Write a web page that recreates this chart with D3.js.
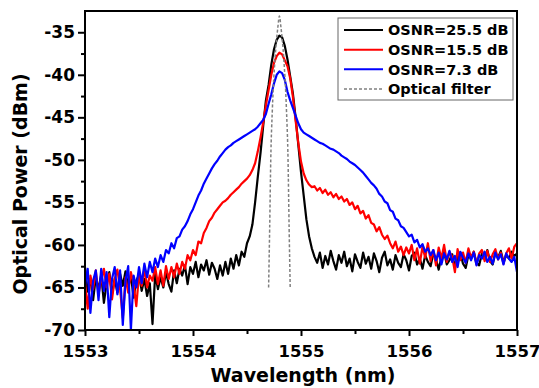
<!DOCTYPE html>
<html>
<head>
<meta charset="utf-8">
<script src="https://cdn.jsdelivr.net/npm/d3@7"></script>
<style>
  html, body { margin: 0; padding: 0; background: #fff; }
  svg { display: block; }
  text { font-family: "DejaVu Sans", Verdana, sans-serif; font-weight: bold; fill: #000; }
</style>
</head>
<body>
<svg id="chart" width="539" height="388"></svg>
<script>
// spectra sampled every 0.025 nm from 1553 nm (161 points each)
const lambdaStart = 1553
const lambdaStep = 0.025

const osnr25 = [
  -62.6, -65.5, -64.0, -66.5, -63.8, -65.2, -63.5, -66.8, -64.5, -63.2, -65.8, -64.0,
  -65.6, -63.4, -64.8, -63.1, -65.0, -63.6, -66.2, -64.2, -63.5, -65.4, -64.0, -66.0,
  -64.5, -69.3, -63.4, -65.2, -63.8, -65.0, -63.2, -64.6, -65.5, -63.0, -64.5, -62.8,
  -63.6, -62.4, -64.6, -62.6, -63.4, -62.0, -63.8, -62.3, -63.0, -61.8, -63.5, -62.1,
  -62.8, -64.0, -62.4, -63.6, -62.0, -63.4, -61.6, -62.8, -61.2, -62.4, -60.8, -61.4,
  -59.8, -59.0, -57.6, -55.0, -52.0, -49.2, -46.0, -43.0, -41.2, -38.8, -37.0, -35.9,
  -35.4, -35.6, -36.6, -38.2, -40.2, -42.2, -45.0, -48.2, -51.4, -54.2, -57.0, -59.0,
  -60.4, -61.4,
  -62.1, -60.9, -62.7, -61.3, -62.3, -60.7, -61.9, -62.9, -61.2, -62.1,
  -60.8, -62.5, -61.6, -63.1, -61.1, -62.0, -62.7, -60.9, -62.2, -61.4,
  -62.8, -61.0, -61.9, -63.2, -61.5, -60.8, -62.4, -61.7, -62.9, -61.2,
  -62.1, -62.6, -61.1, -61.8, -63.0, -61.3, -60.9, -62.3, -61.6, -62.8,
  -61.2, -62.0, -62.5, -61.0, -61.7, -62.9, -61.4, -60.8, -62.3, -61.8,
  -61.1, -62.6, -61.5, -60.9, -62.2, -62.7, -61.2, -61.6, -60.8, -62.1,
  -62.4, -61.0, -61.7, -60.6, -61.9, -62.3, -60.9, -61.5, -60.7, -62.0,
  -61.2, -61.6, -60.8, -61.3, -61.0
]

const osnr15 = [
  -64.5, -67.5, -63.6, -65.2, -63.0, -65.8, -64.2, -62.8, -65.0, -63.4, -66.4, -64.0,
  -62.9, -65.2, -68.6, -63.8, -65.6, -63.2, -64.6, -67.2, -63.5, -64.8, -62.8, -65.0,
  -63.6, -64.2, -62.6, -64.6, -63.0, -64.8, -62.5, -64.0, -62.6, -63.8, -62.2, -63.4,
  -62.0, -62.8, -61.2, -61.8, -60.6, -61.2, -59.6, -59.8, -58.6, -58.0, -57.2, -56.8,
  -56.2, -55.8, -55.4, -55.0, -54.8, -54.5, -54.1, -53.8, -53.5, -53.2, -52.8, -52.5,
  -52.2, -51.8, -51.2, -50.4, -49.0, -47.4, -45.6, -43.6, -41.8, -40.0, -38.6, -37.8,
  -37.4, -37.6, -38.3, -39.0, -40.4, -42.6, -45.4, -48.0, -50.2, -51.6, -52.4, -52.9,
  -53.2,
  -53.1, -53.6, -53.3, -53.9, -53.5, -54.1, -53.8, -54.4, -54.0, -54.6, -54.3, -54.9,
  -54.6, -55.3, -55.0, -55.8, -55.4, -56.3, -56.0, -56.9, -56.5, -57.4, -57.6, -58.4,
  -57.9, -58.8, -59.3, -58.9, -59.8, -60.4, -59.6, -60.8, -60.2, -61.2, -60.3, -61.0,
  -60.0, -61.8, -60.4, -62.2, -60.2, -61.5, -59.8, -61.9, -60.6, -62.4,
  -60.3, -61.6, -60.0, -62.0, -60.8, -61.4, -63.2, -60.5, -61.8, -60.9,
  -62.1, -60.4, -61.5, -60.8, -62.3, -61.0, -60.6, -61.9, -60.7, -62.0,
  -61.1, -60.5, -61.7, -60.9, -62.2, -61.0, -60.4, -61.6, -60.2, -59.8
]

const osnr7 = [
  -64.8, -62.8, -68.0, -64.2, -63.0, -66.5, -62.8, -65.4, -63.2, -68.5, -64.0, -62.6,
  -65.8, -63.0, -69.4, -64.2, -62.5, -70.0, -63.6, -65.0,
  -62.6, -64.5, -62.2, -63.8, -62.0, -63.2, -61.6, -62.6, -61.2, -62.0, -60.6, -61.0,
  -59.8, -60.4, -59.2, -59.0, -58.2, -57.8, -57.2, -56.4, -55.8, -55.0, -54.2, -53.6,
  -52.8, -52.2, -51.6, -51.0, -50.5, -50.1, -49.6, -49.2, -48.8, -48.5, -48.3, -48.0,
  -47.8, -47.6, -47.4, -47.2, -47.0, -46.8, -46.6, -46.4, -46.1, -45.7, -45.3, -44.6,
  -43.4, -42.3, -41.0, -40.0, -39.6, -39.8, -40.6, -42.0, -43.0, -43.9, -44.8, -45.7,
  -46.4, -46.8, -47.0, -47.2,
  -47.4, -47.6, -47.8, -48.0, -48.1, -48.3, -48.5, -48.7, -48.8, -49.0, -49.2, -49.5,
  -49.7, -49.9, -50.2, -50.4, -50.6, -50.9, -51.2, -51.5, -51.9, -52.3, -52.7, -53.0,
  -53.4, -54.0, -54.3, -54.9, -55.1, -55.9, -56.1, -56.9, -57.1, -57.8, -58.0, -58.5,
  -59.0, -58.8, -59.7, -59.4, -60.3, -59.9, -60.8, -60.4, -61.2,
  -60.6, -61.8, -60.9, -62.3, -61.0, -61.7, -60.7, -62.0, -61.3, -62.6,
  -60.8, -61.5, -62.1, -61.0, -61.8, -60.9, -62.4, -61.2, -61.6, -60.8,
  -62.0, -61.4, -62.2, -60.9, -61.7, -61.1, -62.3, -61.0, -61.6, -62.0,
  -61.4, -63.2
]

// optical filter response (dashed curve)
const filterWavelength = [1554.70, 1554.71, 1554.72, 1554.735, 1554.76, 1554.785, 1554.80,
  1554.815, 1554.84, 1554.865, 1554.88, 1554.89, 1554.90]
const filterPower = [-65, -58, -50, -44, -38, -34.5, -33.1, -34.5, -38, -44, -50, -58, -65]

const xTicks = [1553, 1554, 1555, 1556, 1557]
const xMinorTicks = [1553.5, 1554.5, 1555.5, 1556.5]
const yTicks = [-70, -65, -60, -55, -50, -45, -40, -35]
const yMinorTicks = [-67.5, -62.5, -57.5, -52.5, -47.5, -42.5, -37.5]

const wavelengths = osnr25.map((_, i) => +(lambdaStart + i * lambdaStep).toFixed(3))

const series = [
  { name: 'OSNR=25.5 dB', color: '#000000', values: osnr25 },
  { name: 'OSNR=15.5 dB', color: '#ff0000', values: osnr15 },
  { name: 'OSNR=7.3 dB', color: '#0000ff', values: osnr7 }
]

const width = 539
const height = 388
const margin = { top: 11, right: 22, bottom: 58, left: 85 }

const svg = d3.select('#chart')

const x = d3.scaleLinear().domain([1553, 1557]).range([margin.left, width - margin.right])
const y = d3.scaleLinear().domain([-70, -32.5]).range([height - margin.bottom, margin.top])

svg.append('defs').append('clipPath').attr('id', 'plot-clip')
  .append('rect')
  .attr('x', x.range()[0]).attr('y', y.range()[1])
  .attr('width', x.range()[1] - x.range()[0])
  .attr('height', y.range()[0] - y.range()[1])

const line = d3.line()
  .x(d => x(d[0]))
  .y(d => y(d[1]))

const plot = svg.append('g').attr('clip-path', 'url(#plot-clip)')

series.forEach(s => {
  plot.append('path')
    .datum(s.values.map((v, i) => [wavelengths[i], v]))
    .attr('fill', 'none')
    .attr('stroke', s.color)
    .attr('stroke-width', 2.2)
    .attr('stroke-linejoin', 'round')
    .attr('d', line)
})

plot.append('path')
  .datum(filterPower.map((v, i) => [filterWavelength[i], v]))
  .attr('fill', 'none')
  .attr('stroke', '#808080')
  .attr('stroke-width', 1.5)
  .attr('stroke-dasharray', '3,2')
  .attr('d', line.curve(d3.curveMonotoneX))

// axes
const fmt = d => String(d)

const xAxis = svg.append('g')
  .attr('transform', `translate(0,${y.range()[0]})`)
  .call(d3.axisBottom(x).tickValues(xTicks).tickFormat(fmt).tickSize(6).tickPadding(9))
svg.append('g')
  .attr('transform', `translate(0,${y.range()[0]})`)
  .call(d3.axisBottom(x).tickValues(xMinorTicks).tickFormat('').tickSize(4))

const yAxis = svg.append('g')
  .attr('transform', `translate(${x.range()[0]},0)`)
  .call(d3.axisLeft(y).tickValues(yTicks).tickFormat(fmt).tickSize(7).tickPadding(3))
svg.append('g')
  .attr('transform', `translate(${x.range()[0]},0)`)
  .call(d3.axisLeft(y).tickValues(yMinorTicks).tickFormat('').tickSize(4))

svg.selectAll('.domain').remove()
svg.selectAll('.tick line').attr('stroke', '#000').attr('stroke-width', 2)
xAxis.selectAll('text').attr('font-size', 16.5).attr('font-family', null)
yAxis.selectAll('text').attr('font-size', 17).attr('font-family', null)

// frame
svg.append('rect')
  .attr('x', x.range()[0]).attr('y', y.range()[1])
  .attr('width', x.range()[1] - x.range()[0])
  .attr('height', y.range()[0] - y.range()[1])
  .attr('fill', 'none')
  .attr('stroke', '#000')
  .attr('stroke-width', 2)

// axis titles
svg.append('text')
  .attr('x', 303).attr('y', 382)
  .attr('text-anchor', 'middle')
  .attr('font-size', 19)
  .text('Wavelength (nm)')

svg.append('text')
  .attr('transform', 'translate(27,184) rotate(-90)')
  .attr('text-anchor', 'middle')
  .attr('font-size', 19)
  .text('Optical Power (dBm)')

// legend
const legendItems = series.map(s => ({ name: s.name, color: s.color, dash: null }))
  .concat([{ name: 'Optical filter', color: '#808080', dash: '3,2' }])

const legend = svg.append('g')
legend.append('rect')
  .attr('x', 338).attr('y', 18)
  .attr('width', 175).attr('height', 82)
  .attr('fill', '#fff')
  .attr('stroke', '#666')
  .attr('stroke-width', 1)

const rowY = d3.scalePoint().domain(legendItems.map(d => d.name)).range([30, 89])

legendItems.forEach(d => {
  const cy = rowY(d.name)
  legend.append('line')
    .attr('x1', 344).attr('x2', 383)
    .attr('y1', cy).attr('y2', cy)
    .attr('stroke', d.color)
    .attr('stroke-width', d.dash ? 1.5 : 2)
    .attr('stroke-dasharray', d.dash)
  legend.append('text')
    .attr('x', 388).attr('y', cy)
    .attr('dy', '0.36em')
    .attr('font-size', 14.5)
    .text(d.name)
})
</script>
</body>
</html>
